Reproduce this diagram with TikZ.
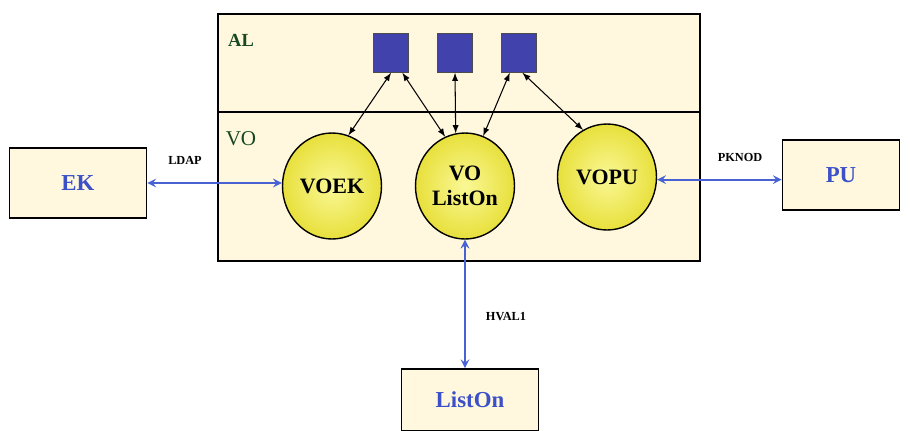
\documentclass[tikz,border=0pt]{standalone}
\usepackage{fontspec}
\setmainfont{Liberation Serif}
\usetikzlibrary{shapes.geometric}

\definecolor{cream}{RGB}{255,248,222}
\definecolor{sqblue}{RGB}{66,66,172}
\definecolor{txtblue}{RGB}{60,80,200}
\definecolor{linkblue}{RGB}{72,98,212}
\definecolor{vogreen}{RGB}{24,72,34}
\definecolor{ballin}{RGB}{250,248,150}
\definecolor{ballout}{RGB}{232,224,60}

\begin{document}
\begin{tikzpicture}[x=0.02cm,y=-0.02cm,
  box/.style={draw,line width=0.9pt,fill=cream,minimum width=2.74cm,minimum height=1.4cm,
    font=\fontsize{13}{15}\selectfont\bfseries,text=txtblue},
  sq/.style={draw=black!70,fill=sqblue,minimum width=0.7cm,minimum height=0.78cm,inner sep=0pt},
  vo/.style={ellipse,draw,line width=0.8pt,inner color=ballin,outer color=ballout,
    minimum width=1.98cm,minimum height=2.12cm,inner sep=0pt,align=center,
    font=\fontsize{12.5}{14}\selectfont\bfseries},
  lbl/.style={font=\fontsize{7}{8}\selectfont\bfseries},
  link/.style={<->,>=stealth,line width=1.2pt,draw=linkblue},
  tie/.style={<->,>=latex,line width=0.6pt}]

\useasboundingbox (0,0) rectangle (910,430);

\node[draw,line width=0.9pt,fill=cream,minimum width=9.64cm,minimum height=4.94cm] (frame) at (459,137.5) {};
\draw[line width=0.9pt] (frame.west |- 0,112) -- (frame.east |- 0,112);
\node[font=\fontsize{10.5}{12}\selectfont\bfseries,text=vogreen] (al) at (241,40) {AL};
\node[font=\fontsize{12}{14}\selectfont,text=vogreen] (vo) at (241,139) {VO};

\node[sq] (sqA) at (391,53) {};
\node[sq] (sqB) at (455,53) {};
\node[sq] (sqC) at (519,53) {};

\node[vo] (voek) at (332,186) {VOEK};
\node[vo] (volist) at (465,186) {VO\\ListOn};
\node[vo] (vopu) at (607,177) {VOPU};

\node[box] (ek) at (78,183) {EK};
\node[box,minimum width=2.34cm] (pu) at (841,175) {PU};
\node[box,minimum height=1.24cm] (liston) at (470,400) {ListOn};

\draw[tie] (sqA.south) -- (voek.72);
\draw[tie] (sqA.-60) -- (volist.112);
\draw[tie] (sqB.south) -- (volist.100);
\draw[tie] (sqC.-115) -- (volist.70);
\draw[tie] (sqC.-80) -- (vopu.117);

\draw[link] (ek.east) -- (ek.east -| voek.west);
\draw[link] (vopu.-3) -- (vopu.-3 -| pu.west);
\draw[link] (volist.south) -- (volist.south |- liston.north);

\node[lbl] (ldap) at (185,160) {LDAP};
\node[lbl] (pknod) at (740,157) {PKNOD};
\node[lbl] (hval) at (506,317) {HVAL1};

\end{tikzpicture}
\end{document}
